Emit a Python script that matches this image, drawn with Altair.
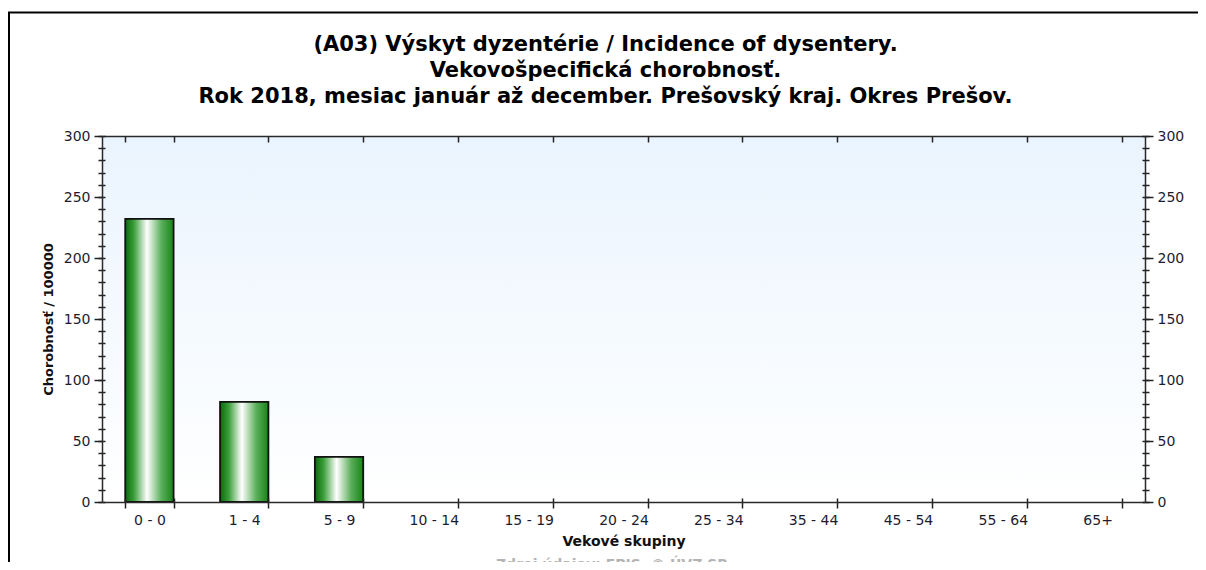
import altair as alt
import pandas as pd

# ---- data ----
groups = ["0 - 0", "1 - 4", "5 - 9", "10 - 14", "15 - 19", "20 - 24",
          "25 - 34", "35 - 44", "45 - 54", "55 - 64", "65+"]
rates = [232, 82, 37, 0, 0, 0, 0, 0, 0, 0, 0]
y_major = [0, 50, 100, 150, 200, 250, 300]
y_minor = list(range(0, 301, 10))
title_lines = [
    "(A03) Výskyt dyzentérie / Incidence of dysentery.",
    "Vekovošpecifická chorobnosť.",
    "Rok 2018, mesiac január až december. Prešovský kraj. Okres Prešov.",
]
x_title = "Vekové skupiny"
y_title = "Chorobnosť / 100000"
source_note = "Zdroj údajov: EPIS, © ÚVZ SR"

W, H = 1043, 366
df = pd.DataFrame({"group": groups, "rate": rates})
df_note = pd.DataFrame({"note": [source_note]})

FONT = "DejaVu Sans"

xscale = alt.Scale(paddingInner=0.49, paddingOuter=0.245)
yscale = alt.Scale(domain=[0, 300], nice=False)


def ax(**kw):
    base = dict(labelFont=FONT, labelFontSize=14, labelColor="#1c1c30",
                tickColor="#222222", tickWidth=1.5, domainColor="#2a2a2a",
                domainWidth=1.5, grid=False, zindex=1,
                titleFont=FONT, titleFontWeight="bold", titleColor="#111111")
    base.update(kw)
    return alt.Axis(**base)


bar_grad = alt.LinearGradient(
    gradient="linear", x1=0, x2=1, y1=0, y2=0,
    stops=[alt.GradientStop(offset=0, color="#0a6a0a"),
           alt.GradientStop(offset=0.18, color="#3a9e3a"),
           alt.GradientStop(offset=0.45, color="#ffffff"),
           alt.GradientStop(offset=0.75, color="#5aae5a"),
           alt.GradientStop(offset=1, color="#178417")])

bg_grad = alt.LinearGradient(
    gradient="linear", x1=0, x2=0, y1=0, y2=1,
    stops=[alt.GradientStop(offset=0, color="#eaf4fe"),
           alt.GradientStop(offset=1, color="#ffffff")])

bg = alt.Chart(df_note).mark_rect(fill=bg_grad).encode(
    x=alt.value(0), x2=alt.value(W), y=alt.value(0), y2=alt.value(H))


def ghost(xa, ya):
    return alt.Chart(df).mark_bar(opacity=0).encode(
        x=alt.X("group:N", sort=groups, scale=xscale, axis=xa),
        y=alt.Y("rate:Q", scale=yscale, axis=ya))


g1 = ghost(ax(orient="top", offset=-H, labels=False, domain=False,
              tickBand="extent", tickSize=4, title=None),
           ax(orient="left", values=y_minor, tickSize=4, labels=False,
              domain=False, title=None))
g2 = ghost(ax(orient="bottom", offset=-H, labels=False, domain=True,
              tickBand="extent", tickSize=6, title=None),
           ax(orient="right", values=y_major, tickSize=8, labelPadding=4,
              title=None))
g3 = ghost(None,
           ax(orient="right", values=y_minor, tickSize=4, labels=False,
              domain=False, title=None))
g4 = ghost(None,
           ax(orient="right", offset=-W, values=y_minor, tickSize=3,
              labels=False, domain=False, title=None))
g5 = ghost(None,
           ax(orient="left", offset=-W, values=y_minor, tickSize=3,
              labels=False, domain=False, title=None))

bars = alt.Chart(df).transform_filter(alt.datum.rate > 0).mark_bar(
    fill=bar_grad, stroke="#111111", strokeWidth=1.8).encode(
    x=alt.X("group:N", sort=groups, scale=xscale,
            axis=ax(orient="bottom", title=x_title, tickBand="extent",
                    labelAngle=0, tickSize=6, labelPadding=5,
                    titlePadding=7, titleFontSize=14)),
    y=alt.Y("rate:Q", scale=yscale,
            axis=ax(orient="left", values=y_major, tickSize=8,
                    title=y_title, titleFontSize=13, labelPadding=4,
                    titlePadding=8)),
)

note = alt.Chart(df_note).mark_text(
    font=FONT, fontSize=14, fontWeight="bold", color="#b4b4b4",
    baseline="top", align="center").encode(
    text="note:N", x=alt.value(510), y=alt.value(H + 56))

border = alt.Chart(df_note).mark_rect(
    fillOpacity=0, stroke="#000000", strokeWidth=2, clip=False).encode(
    x=alt.value(-93), x2=alt.value(W + 200),
    y=alt.value(-123.5), y2=alt.value(H + 90))

chart = alt.layer(bg, g1, g2, g3, g4, g5, bars, note, border).resolve_axis(
    x="independent", y="independent"
).properties(
    width=W, height=H,
    title=alt.TitleParams(text=title_lines, font=FONT, fontSize=21,
                          fontWeight="bold", color="#000000",
                          anchor="middle", frame="group", dx=-18,
                          lineHeight=26, offset=-95),
    autosize=alt.AutoSizeParams(type="none"),
    padding={"left": 94, "top": 128, "right": 53, "bottom": 60},
).configure_view(stroke="transparent").configure(background="white")

chart.save("out.html", embed_options={"renderer": "svg", "actions": False})
